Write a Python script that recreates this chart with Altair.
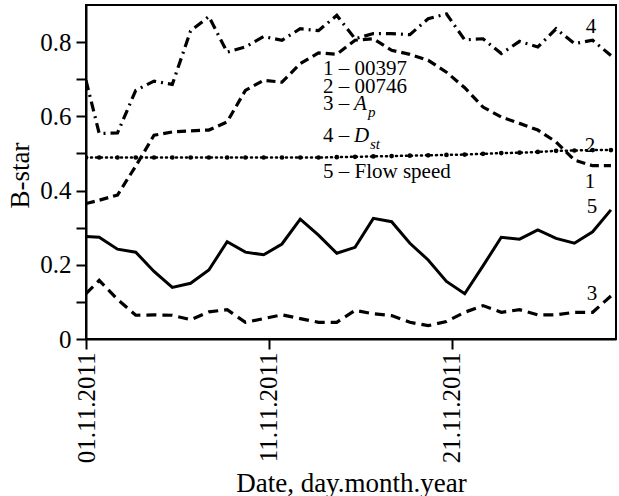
import altair as alt
import pandas as pd

# x positions: first sample at the start of 01.11, then one sample per day (late in the day)
dates = ["2011-11-01T00:00"] + [f"2011-11-{d:02d}T17:20" for d in range(1, 30)]

s1_00397 = [0.365, 0.374, 0.388, 0.466, 0.549, 0.558, 0.561, 0.563, 0.585, 0.670,
            0.697, 0.692, 0.742, 0.771, 0.767, 0.805, 0.809, 0.778, 0.767, 0.751,
            0.719, 0.677, 0.625, 0.598, 0.581, 0.563, 0.531, 0.482, 0.467, 0.467]
s2_00746 = [0.489, 0.489, 0.489, 0.489, 0.489, 0.489, 0.489, 0.489, 0.489, 0.489,
            0.489, 0.489, 0.489, 0.489, 0.490, 0.491, 0.492, 0.493, 0.494, 0.495,
            0.496, 0.497, 0.499, 0.501, 0.502, 0.504, 0.507, 0.508, 0.509, 0.509]
s3_ap = [0.122, 0.158, 0.107, 0.064, 0.065, 0.064, 0.052, 0.073, 0.079, 0.045,
         0.055, 0.065, 0.055, 0.045, 0.045, 0.077, 0.068, 0.063, 0.045, 0.036,
         0.047, 0.072, 0.090, 0.072, 0.079, 0.065, 0.065, 0.072, 0.072, 0.116]
s4_dst = [0.697, 0.554, 0.555, 0.670, 0.695, 0.686, 0.830, 0.869, 0.773, 0.787,
          0.815, 0.805, 0.836, 0.831, 0.872, 0.809, 0.823, 0.823, 0.820, 0.863,
          0.876, 0.806, 0.809, 0.769, 0.802, 0.787, 0.836, 0.796, 0.805, 0.764]
s5_flow = [0.276, 0.274, 0.242, 0.234, 0.182, 0.139, 0.150, 0.186, 0.262, 0.234,
           0.227, 0.256, 0.323, 0.280, 0.231, 0.247, 0.325, 0.316, 0.258, 0.213,
           0.155, 0.122, 0.197, 0.274, 0.269, 0.294, 0.271, 0.258, 0.289, 0.348]

series_names = ["1", "2", "3", "4", "5"]
series_values = [s1_00397, s2_00746, s3_ap, s4_dst, s5_flow]

rows = []
for name, vals in zip(series_names, series_values):
    for d, v in zip(dates, vals):
        rows.append({"date": d, "value": v, "series": name})
df = pd.DataFrame(rows)

FONT = "'Liberation Serif', 'Times New Roman', Times, serif"

x_enc = alt.X(
    "date:T",
    scale=alt.Scale(domain=[alt.DateTime(year=2011, month=11, date=1),
                            alt.DateTime(year=2011, month=11, date=30)]),
    axis=alt.Axis(
        values=[alt.DateTime(year=2011, month=11, date=d) for d in (1, 11, 21)],
        format="%d.%m.%Y",
        labelAngle=270, labelAlign="right", labelBaseline="middle",
        tickSize=10, labelPadding=3,
        title="Date, day.month.year",
        titleY=152, titleBaseline="alphabetic",
    ),
)
y_enc = alt.Y(
    "value:Q",
    scale=alt.Scale(domain=[0, 0.9], nice=False, zero=False),
    axis=alt.Axis(
        values=[0, 0.1, 0.2, 0.3, 0.4, 0.5, 0.6, 0.7, 0.8],
        labelExpr="round(datum.value*10) % 2 == 0 ? (datum.value == 0 ? '0' : format(datum.value, '.1f')) : ''",
        tickSize=10, labelPadding=5,
        title="B-star", titleAngle=270, titleX=-58, titleY=170,
        titleAlign="center", titleBaseline="alphabetic",
    ),
)

base = alt.Chart(df).encode(x=x_enc, y=y_enc)


def series_line(name, **kw):
    return base.transform_filter(alt.datum.series == name).mark_line(
        color="black", clip=True, **kw)


l1 = series_line("1", strokeWidth=3.2, strokeDash=[9, 5])
l2 = series_line("2", strokeWidth=2.5, strokeDash=[1, 4], strokeCap="round")
p2 = base.transform_filter(alt.datum.series == "2").mark_circle(
    color="black", size=22, opacity=1, clip=True)
l3 = series_line("3", strokeWidth=3.2, strokeDash=[10, 6])
l4 = series_line("4", strokeWidth=3.2, strokeDash=[10, 5, 2, 5])
l5 = series_line("5", strokeWidth=3)

dummy = pd.DataFrame({"k": [0]})


def label(text, x, y, size=21, style="normal", align="left"):
    return alt.Chart(dummy).mark_text(
        text=text, font=FONT, fontSize=size, fontStyle=style, color="black",
        align=align, baseline="alphabetic",
    ).encode(x=alt.value(x), y=alt.value(y))


texts = [
    label("1 \u2013 00397", 237, 70),
    label("2 \u2013 00746", 237, 88),
    label("3 \u2013", 237, 105),
    label("A", 268, 105, style="italic"),
    label("p", 282, 112, size=15, style="italic"),
    label("4 \u2013", 237, 137),
    label("D", 268, 137, style="italic"),
    label("st", 284, 144, size=15, style="italic"),
    label("5 \u2013 Flow speed", 237, 173),
    label("4", 505, 28, align="center"),
    label("2", 504, 147, align="center"),
    label("1", 504, 183, align="center"),
    label("5", 506, 208, align="center"),
    label("3", 506, 295, align="center"),
]

chart = alt.layer(l1, l2, p2, l3, l4, l5, *texts).properties(
    width=530, height=334,
    autosize=alt.AutoSizeParams(type="none"),
    padding={"left": 86, "top": 5, "right": 3, "bottom": 157},
    background="white",
).configure_view(
    stroke="black", strokeWidth=2,
).configure_axis(
    domainColor="black", domainWidth=2, tickColor="black", tickWidth=2,
    labelFont=FONT, labelFontSize=25, labelColor="black",
    titleFont=FONT, titleFontSize=27, titleFontWeight="normal", titleColor="black",
    grid=False,
)

chart.save("out.html", embed_options={"renderer": "svg", "actions": False})
